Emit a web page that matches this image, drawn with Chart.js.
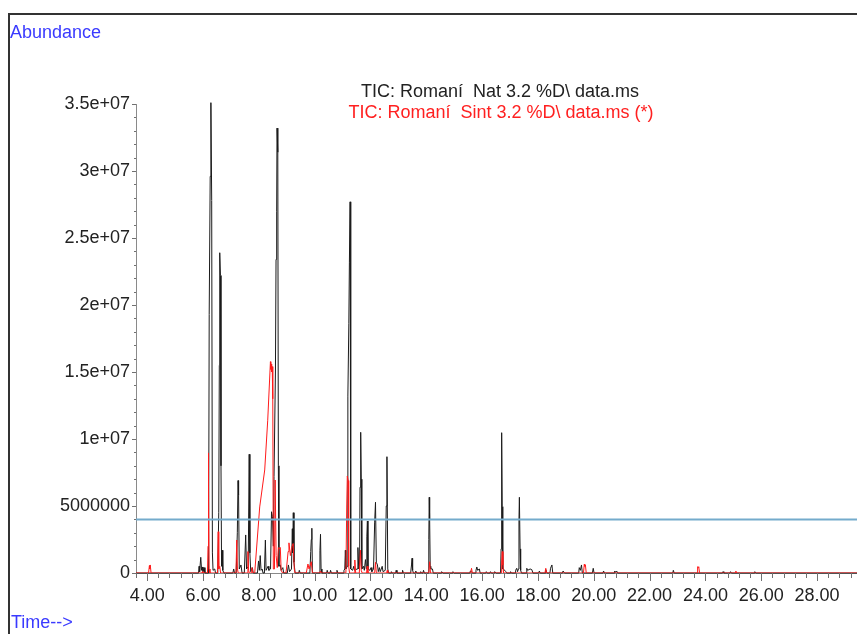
<!DOCTYPE html>
<html lang="es">
<head>
<meta charset="UTF-8">
<title>TIC Romaní 3.2</title>
<script src="https://cdn.jsdelivr.net/npm/chart.js"></script>
<style>
    html, body { margin: 0; padding: 0; background: #fff; overflow: hidden; }
    #marco { position: absolute; left: 8px; top: 13px; width: 900px; height: 700px;
             border-left: 2px solid #333; border-top: 2px solid #333; }
    #grafico { position: absolute; left: 0; top: 0; }
</style>
</head>
<body>
<div id="marco"></div>
<canvas id="grafico" width="857" height="634"></canvas>

<script>
// Cromatograma TIC (tiempo en min, abundancia), un grupo de picos por linea
const natTime = [
    3.60,
    5.84, 5.86, 5.88, 5.92, 5.95, 5.98, 6.00, 6.04, 6.07,
    6.20, 6.222, 6.258, 6.283, 6.312, 6.337, 6.36, 6.42, 6.45,
    6.52, 6.53, 6.565, 6.585, 6.60, 6.625, 6.645, 6.665, 6.69, 6.71, 6.75,
    7.07, 7.10, 7.13,
    7.19, 7.23, 7.255, 7.275, 7.30, 7.36, 7.40,
    7.48, 7.53, 7.56, 7.62, 7.655, 7.68, 7.71, 7.77, 7.80,
    7.95, 7.99, 8.02, 8.05, 8.08, 8.12, 8.15,
    8.20, 8.235, 8.26, 8.33, 8.36, 8.42, 8.455, 8.49, 8.52, 8.545, 8.595, 8.617, 8.64, 8.652, 8.68, 8.70, 8.72, 8.77, 8.80, 8.86, 8.89,
    9.02, 9.06, 9.10, 9.17, 9.20, 9.215, 9.235, 9.26, 9.30,
    9.43, 9.45, 9.48,
    9.83, 9.86, 9.88, 9.90, 9.92,
    10.16, 10.19, 10.21, 10.23, 10.26,
    10.43, 10.45, 10.48, 10.55, 10.57, 10.60, 10.78, 10.80, 10.83,
    11.03, 11.05, 11.08, 11.10, 11.12, 11.17, 11.19, 11.225, 11.245, 11.27, 11.285, 11.30,
    11.36, 11.40, 11.43, 11.52, 11.55, 11.58, 11.61, 11.625, 11.65, 11.67, 11.69,
    11.75, 11.78, 11.82, 11.85, 11.87, 11.89, 11.91, 11.98, 12.02, 12.05,
    12.11, 12.15, 12.18, 12.21, 12.25, 12.28, 12.32, 12.35, 12.42, 12.45,
    12.53, 12.565, 12.59, 12.62, 12.65,
    12.74, 12.75, 12.78, 12.90, 12.92, 12.95, 13.13, 13.15, 13.18,
    13.44, 13.47, 13.49, 13.51, 13.54, 13.60, 13.62, 13.66, 13.78, 13.80, 13.83, 13.88, 13.90, 13.93,
    14.07, 14.09, 14.105, 14.12, 14.14, 14.16, 14.22, 14.25,
    14.53, 14.55, 14.60, 14.93, 14.95, 15.00,
    15.56, 15.58, 15.62, 15.65, 15.76, 15.78, 15.81, 15.84, 15.90, 15.93,
    16.13, 16.15, 16.18, 16.28, 16.30, 16.33, 16.43, 16.45, 16.50,
    16.66, 16.68, 16.695, 16.705, 16.72, 16.74, 16.76, 16.85, 16.88,
    17.00, 17.02, 17.05, 17.18, 17.20, 17.24, 17.27, 17.30, 17.32, 17.335, 17.36, 17.38, 17.41,
    17.58, 17.60, 17.63, 17.72, 17.78, 17.82, 18.03, 18.05, 18.08, 18.26, 18.28, 18.32, 18.43, 18.45, 18.50, 18.53,
    18.88, 18.90, 18.95, 19.46, 19.48, 19.52, 19.56, 19.59, 19.95, 19.98, 20.01,
    20.33, 20.35, 20.38, 20.73, 20.75, 20.78, 20.82, 20.85,
    22.83, 22.85, 22.88, 24.61, 24.63, 24.66, 24.88, 24.90, 24.93, 25.75, 25.77, 25.80,
    29.43
];
const natAbund = [
    0,
    0, 0.5e6, 0.1e6, 1.17e6, 0.2e6, 0.45e6, 0.1e6, 0.4e6, 0,
    0, 19.3e6, 29.6e6, 35.1e6, 27.8e6, 1.5e6, 0.2e6, 0.3e6, 0,
    0, 0.3e6, 4.5e6, 15.5e6, 23.9e6, 22.2e6, 8.0e6, 0.5e6, 1.7e6, 0.2e6, 0,
    0, 0.3e6, 0,
    0, 3.0e6, 6.9e6, 5.8e6, 0.3e6, 0.6e6, 0,
    0, 2.84e6, 0.3e6, 0.5e6, 8.86e6, 1.5e6, 0.1e6, 0.4e6, 0,
    0, 0.9e6, 0.2e6, 1.3e6, 0.2e6, 0.3e6, 0,
    0, 2.46e6, 0.2e6, 0.5e6, 0.2e6, 0.3e6, 4.57e6, 4.2e6, 2.0e6, 7.2e6, 15.0e6, 23.4e6, 27.0e6, 33.2e6, 31.4e6, 8.0e6, 0.5e6, 0.6e6, 0.2e6, 0.4e6, 0,
    0, 0.6e6, 0.1e6, 0.3e6, 3.3e6, 1.5e6, 4.5e6, 0.8e6, 0,
    0, 0.2e6, 0,
    0, 1.6e6, 2.5e6, 3.34e6, 0,
    0, 1.7e6, 2.89e6, 0.3e6, 0,
    0, 0.2e6, 0, 0, 0.2e6, 0, 0, 0.2e6, 0,
    0, 0.2e6, 0.3e6, 1.7e6, 0.3e6, 0.5e6, 13.2e6, 18.6e6, 23.2e6, 27.7e6, 5.0e6, 0.3e6,
    0.2e6, 0.5e6, 0.2e6, 0.3e6, 1.9e6, 0.3e6, 0.5e6, 6.4e6, 10.5e6, 7.0e6, 0.3e6,
    0.5e6, 0.2e6, 1.0e6, 0.3e6, 2.7e6, 3.88e6, 0.3e6, 0.2e6, 0.4e6, 0.1e6,
    0.3e6, 3.8e6, 5.28e6, 0.8e6, 0.6e6, 0.1e6, 0.4e6, 0.1e6, 0.5e6, 0.1e6,
    0.2e6, 5.0e6, 8.68e6, 0.3e6, 0,
    0, 0.1e6, 0, 0, 0.2e6, 0, 0, 0.2e6, 0,
    0, 0.6e6, 1.1e6, 0.2e6, 0, 0, 0.15e6, 0, 0, 0.1e6, 0, 0, 0.2e6, 0,
    0, 2.5e6, 5.65e6, 4.0e6, 0.5e6, 0.3e6, 0.3e6, 0,
    0, 0.1e6, 0, 0, 0.1e6, 0,
    0, 0.15e6, 0.1e6, 0, 0, 0.2e6, 0.45e6, 0.2e6, 0.3e6, 0,
    0, 0.1e6, 0, 0, 0.1e6, 0, 0, 0.1e6, 0,
    0, 1.8e6, 6.8e6, 10.47e6, 4.95e6, 0.3e6, 0.3e6, 0.1e6, 0,
    0, 0.1e6, 0, 0, 0.2e6, 0.35e6, 0.1e6, 0.3e6, 4.0e6, 5.65e6, 1.8e6, 0.2e6, 0,
    0, 0.35e6, 0.2e6, 0.3e6, 0.25e6, 0, 0, 0.15e6, 0, 0, 0.25e6, 0, 0, 0.35e6, 0.6e6, 0,
    0, 0.15e6, 0, 0, 0.4e6, 0.2e6, 0.6e6, 0, 0, 0.35e6, 0,
    0, 0.15e6, 0, 0, 0.15e6, 0.05e6, 0.15e6, 0,
    0, 0.2e6, 0, 0, 0.1e6, 0, 0, 0.1e6, 0, 0, 0.1e6, 0,
    0
];

const sintTime = [
    3.60,
    4.05, 4.08, 4.09, 4.11, 4.14,
    5.95, 5.98, 6.00,
    6.16, 6.18, 6.19, 6.205, 6.22, 6.25,
    6.52, 6.545, 6.565, 6.60, 6.63,
    7.18, 7.21, 7.235, 7.26,
    7.58, 7.61, 7.635, 7.66, 7.73, 7.75, 7.79,
    7.853, 8.032, 8.211, 8.319, 8.416, 8.43, 8.445, 8.46, 8.48, 8.50, 8.52,
    8.56, 8.585, 8.62, 8.66, 8.70, 8.74, 8.77, 8.80, 8.85,
    8.97, 8.99, 9.05, 9.08, 9.13, 9.19, 9.23, 9.27, 9.30,
    9.70, 9.76, 9.80, 9.88, 9.92,
    10.18, 10.21, 10.24,
    11.12, 11.15, 11.17, 11.20, 11.22, 11.25,
    11.41, 11.44, 11.47, 11.60, 11.64, 11.67, 11.70,
    11.86, 11.88, 11.91, 12.15, 12.18, 12.21, 12.58, 12.60, 12.62,
    14.09, 14.12, 14.15,
    15.59, 15.62, 15.65,
    16.68, 16.70, 16.72, 16.745, 16.77,
    18.25, 18.28, 18.31,
    19.63, 19.66, 19.68, 19.70, 19.73,
    23.70, 23.72, 23.74, 23.76, 23.79,
    25.07, 25.09, 25.11,
    29.43
];
const sintAbund = [
    0,
    0, 0.55e6, 0.3e6, 0.6e6, 0,
    0, 0.1e6, 0,
    0, 2.0e6, 8.96e6, 6.5e6, 0.3e6, 0,
    0, 3.08e6, 0.3e6, 0.5e6, 0,
    0, 2.46e6, 0.3e6, 0,
    0, 1.6e6, 0.2e6, 0, 0, 0.4e6, 0,
    0, 4.93e6, 7.69e6, 11.4e6, 15.77e6, 15.2e6, 15.6e6, 15.0e6, 15.4e6, 13.0e6, 0.3e6,
    0.3e6, 6.94e6, 1.3e6, 0.4e6, 1.9e6, 1.8e6, 1.9e6, 0.2e6, 0,
    0, 0.3e6, 1.6e6, 2.25e6, 1.3e6, 2.0e6, 2.2e6, 0.3e6, 0,
    0, 0.67e6, 0.3e6, 0.84e6, 0,
    0, 0.15e6, 0,
    0, 5.0e6, 7.24e6, 6.9e6, 0.5e6, 0,
    0, 0.97e6, 0, 0, 1.7e6, 0.2e6, 0,
    0, 0.5e6, 0, 0, 0.8e6, 0, 0, 0.2e6, 0,
    0, 0.84e6, 0,
    0, 0.35e6, 0,
    0, 0.9e6, 1.6e6, 0.6e6, 0,
    0, 0.35e6, 0,
    0, 0.65e6, 0.5e6, 0.6e6, 0,
    0, 0.47e6, 0.4e6, 0.47e6, 0,
    0, 0.15e6, 0,
    0
];

// linea de umbral
const umbral = 4000000;

// etiquetas de los ejes
const xTickValues = [4, 6, 8, 10, 12, 14, 16, 18, 20, 22, 24, 26, 28];
const xTickLabels = ['4.00', '6.00', '8.00', '10.00', '12.00', '14.00', '16.00',
                     '18.00', '20.00', '22.00', '24.00', '26.00', '28.00'];
const yTickValues = [0, 5000000, 10000000, 15000000, 20000000, 25000000, 30000000, 35000000];
const yTickLabels = ['0', '5000000', '1e+07', '1.5e+07', '2e+07', '2.5e+07', '3e+07', '3.5e+07'];

const xMin = 3.6, xMax = 29.43;
const fuente = "'Liberation Sans', Arial, sans-serif";

function puntos(tiempos, valores) {
    return tiempos.map((t, i) => ({ x: t, y: valores[i] }));
}

function etiqueta(valores, etiquetas, v) {
    const i = valores.findIndex(a => Math.abs(a - v) < 1e-6 * Math.max(1, Math.abs(a)));
    return i >= 0 ? etiquetas[i] : '';
}

// marcas de los ejes: largas en las etiquetas, cortas en las demas
const marcasEjes = {
    id: 'marcasEjes',
    afterDraw(chart) {
        const { ctx } = chart;
        const x = chart.scales.x, y = chart.scales.y;
        ctx.save();
        ctx.strokeStyle = '#707070';
        ctx.lineWidth = 1;
        ctx.beginPath();
        x.ticks.forEach(t => {
            const px = Math.round(x.getPixelForValue(t.value)) + 0.5;
            ctx.moveTo(px, x.top);
            ctx.lineTo(px, x.top + (t.major ? 8 : 5));
        });
        y.ticks.forEach(t => {
            const py = Math.round(y.getPixelForValue(t.value)) + 0.5;
            ctx.moveTo(y.right, py);
            ctx.lineTo(y.right - (t.major ? 4 : 2), py);
        });
        ctx.stroke();
        ctx.restore();
    }
};

// textos del encabezado y de los ejes
const textos = {
    id: 'textos',
    afterDraw(chart) {
        const ctx = chart.ctx;
        ctx.save();
        ctx.font = '18px ' + fuente;
        ctx.textBaseline = 'middle';
        ctx.textAlign = 'left';
        ctx.fillStyle = '#3a3aff';
        ctx.fillText('Abundance', 10, 33);
        ctx.fillText('Time-->', 11, 623);
        ctx.textAlign = 'center';
        ctx.fillStyle = '#222';
        ctx.fillText('TIC: Romaní  Nat 3.2 %D\\ data.ms', 500, 92);
        ctx.fillStyle = '#ff2020';
        ctx.fillText('TIC: Romaní  Sint 3.2 %D\\ data.ms (*)', 501, 113);
        ctx.restore();
    }
};

new Chart(document.getElementById('grafico'), {
    type: 'scatter',
    data: {
        datasets: [
            {
                label: 'umbral',
                data: [{ x: xMin, y: umbral }, { x: xMax, y: umbral }],
                showLine: true,
                borderColor: '#74abcc',
                borderWidth: 2
            },
            {
                label: 'Sint',
                data: puntos(sintTime, sintAbund),
                showLine: true,
                borderColor: '#ff1a1a',
                borderWidth: 1
            },
            {
                label: 'Nat',
                data: puntos(natTime, natAbund),
                showLine: true,
                borderColor: '#1a1a1a',
                borderWidth: 1,
                clip: false
            }
        ]
    },
    options: {
        responsive: false,
        animation: false,
        layout: { padding: { top: 104, left: 0, right: 0, bottom: 0 } },
        elements: { point: { radius: 0 }, line: { tension: 0 } },
        plugins: { legend: { display: false }, tooltip: { enabled: false } },
        scales: {
            x: {
                type: 'linear',
                min: xMin,
                max: xMax,
                afterFit(s) {
                    s.height = 61;
                    s.paddingLeft = 0;
                    s.paddingRight = 0;
                },
                afterBuildTicks(s) {
                    const lista = [];
                    for (let i = 0; xMin + i * 0.4 <= xMax; i++) {
                        const v = Math.round((xMin + i * 0.4) * 10) / 10;
                        lista.push({ value: v, major: Math.abs(v / 2 - Math.round(v / 2)) < 1e-6 });
                    }
                    s.ticks = lista;
                },
                ticks: {
                    autoSkip: false,
                    maxRotation: 0,
                    padding: 12,
                    color: '#222',
                    font: { family: fuente, size: 18 },
                    callback: v => etiqueta(xTickValues, xTickLabels, v)
                },
                grid: { drawOnChartArea: false, drawTicks: false },
                border: { color: '#8a8a8a', width: 1 }
            },
            y: {
                min: 0,
                max: 35000000,
                afterFit(s) { s.width = 136; },
                afterBuildTicks(s) {
                    const lista = [];
                    for (let i = 0; i <= 35; i++) {
                        lista.push({ value: i * 1000000, major: i % 5 === 0 });
                    }
                    s.ticks = lista;
                },
                ticks: {
                    autoSkip: false,
                    padding: 6,
                    color: '#222',
                    font: { family: fuente, size: 18 },
                    callback: v => etiqueta(yTickValues, yTickLabels, v)
                },
                grid: { drawOnChartArea: false, drawTicks: false },
                border: { color: '#8a8a8a', width: 1 }
            }
        }
    },
    plugins: [marcasEjes, textos]
});
</script>
</body>
</html>
